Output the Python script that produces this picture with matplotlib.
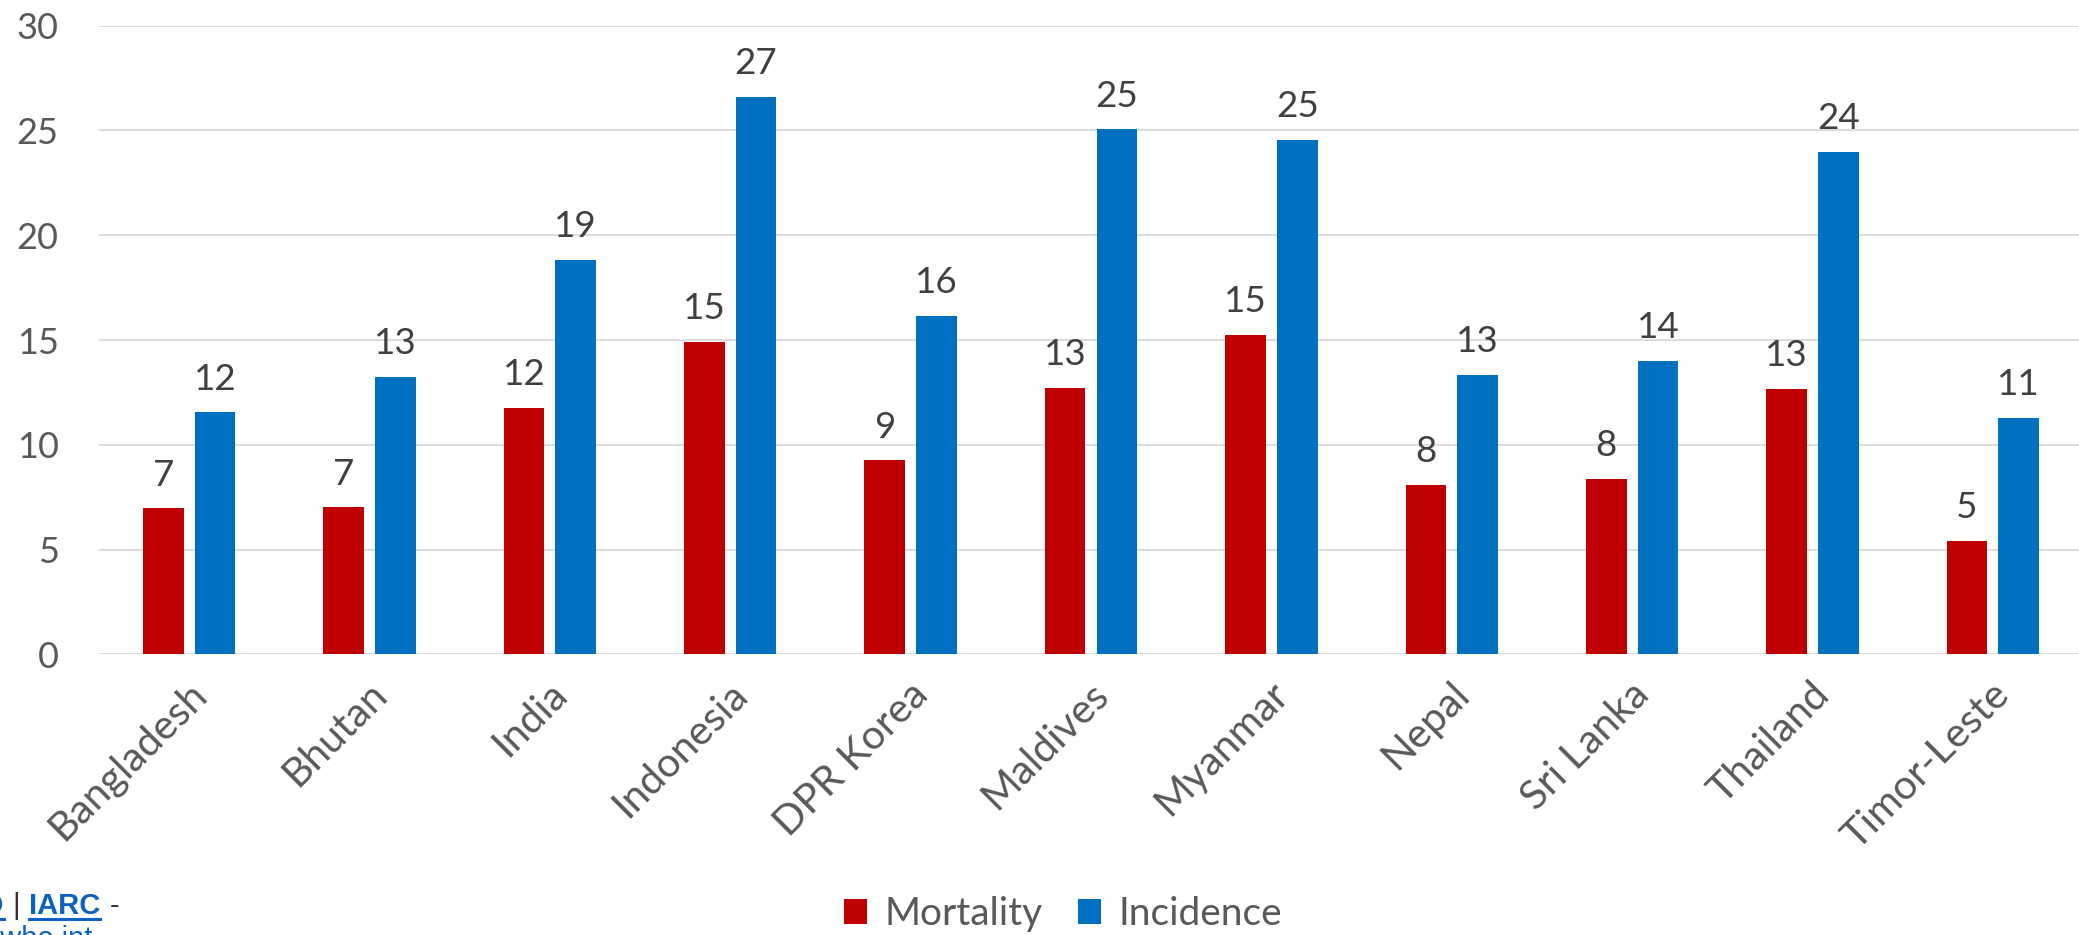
import numpy as np
import matplotlib
matplotlib.use("Agg")
import matplotlib.pyplot as plt
import matplotlib.transforms as mtransforms
from matplotlib.patches import Patch
from matplotlib.lines import Line2D

plt.rcParams["font.family"] = ["Lato", "DejaVu Sans"]

countries = ["Bangladesh", "Bhutan", "India", "Indonesia", "DPR Korea", "Maldives",
             "Myanmar", "Nepal", "Sri Lanka", "Thailand", "Timor-Leste"]
mortality = [6.96, 7.01, 11.75, 14.89, 9.25, 12.72, 15.24, 8.06, 8.35, 12.65, 5.41]
incidence = [11.54, 13.24, 18.81, 26.59, 16.16, 25.05, 24.56, 13.33, 13.98, 23.96, 11.3]
series_names = ["Mortality", "Incidence"]
y_ticks = [0, 5, 10, 15, 20, 25, 30]

RED = "#C00000"
BLUE = "#0070C0"
TICK_COLOR = "#595959"
LABEL_COLOR = "#404040"
GRID_COLOR = "#D9D9D9"

W, H = 2079, 935
fig = plt.figure(figsize=(W / 100, H / 100), dpi=100)
ax = fig.add_axes([99 / W, 1 - 654.3 / H, (2083 - 99) / W, (654.3 - 25.7) / H])

x = np.arange(len(countries))
bw = 0.2256
off = 0.1433
bars_m = ax.bar(x - off, mortality, width=bw, color=RED, linewidth=0, zorder=3)
bars_i = ax.bar(x + off, incidence, width=bw, color=BLUE, linewidth=0, zorder=3)

for bars, vals in ((bars_m, mortality), (bars_i, incidence)):
    for b, v in zip(bars, vals):
        ax.annotate(f"{v:.0f}", (b.get_x() + b.get_width() / 2, v),
                    xytext=(0, 16.5), textcoords="offset points",
                    ha="center", va="baseline", fontsize=26.5, color=LABEL_COLOR)

ax.set_xlim(-0.5, len(countries) - 0.5)
ax.set_ylim(0, 30)
ax.set_yticks(y_ticks)
ax.set_yticklabels([str(t) for t in y_ticks])
ax.yaxis.grid(True, color=GRID_COLOR, linewidth=1.3, zorder=0)
ax.set_axisbelow(True)
for s in ax.spines.values():
    s.set_visible(False)
ax.tick_params(axis="y", length=0, pad=29, labelsize=26, labelcolor=TICK_COLOR)
ax.tick_params(axis="x", length=0, pad=15, labelsize=29.5, labelcolor=TICK_COLOR)

ax.set_xticks(x)
ax.set_xticklabels(countries, rotation=45, ha="right", va="top", rotation_mode="anchor")
shift = mtransforms.ScaledTranslation(-2 / 100, 0, fig.dpi_scale_trans)
for lbl in ax.get_xticklabels():
    lbl.set_transform(lbl.get_transform() + shift)

handles = [Patch(facecolor=RED, edgecolor="none"), Patch(facecolor=BLUE, edgecolor="none")]
fig.legend(handles, series_names, loc="center", bbox_to_anchor=(1063 / W, 1 - 914 / H),
           ncol=2, frameon=False, fontsize=28, labelcolor=TICK_COLOR,
           handlelength=0.6, handleheight=0.6, handletextpad=0.45, columnspacing=0.9)

# source line in the lower-left corner
LINK = "#0B62C4"
DARK = "#333333"
base = 1 - 914.3 / H
fig.text(4 / W, base, "WHO", ha="right", va="baseline", fontsize=21,
         family="Liberation Sans", weight="bold", color=LINK)
fig.text(16.5 / W, base, "|", ha="center", va="baseline", fontsize=21,
         family="Liberation Sans", color=DARK)
fig.text(29 / W, base, "IARC", ha="left", va="baseline", fontsize=21,
         family="Liberation Sans", weight="bold", color=LINK)
fig.text(110 / W, base, "-", ha="left", va="baseline", fontsize=21,
         family="Liberation Sans", color=DARK)
fig.add_artist(Line2D([-60 / W, 4 / W], [1 - 918.5 / H] * 2, transform=fig.transFigure,
                      color=LINK, linewidth=2.2))
fig.add_artist(Line2D([29 / W, 100 / W], [1 - 918.5 / H] * 2, transform=fig.transFigure,
                      color=LINK, linewidth=2.2))
fig.text(93 / W, 1 - 925 / H, "gco.iarc.who.int", ha="right", va="top", fontsize=21,
         family="Liberation Sans", color=LINK)

fig.savefig("out.png", dpi=100, facecolor="white")
